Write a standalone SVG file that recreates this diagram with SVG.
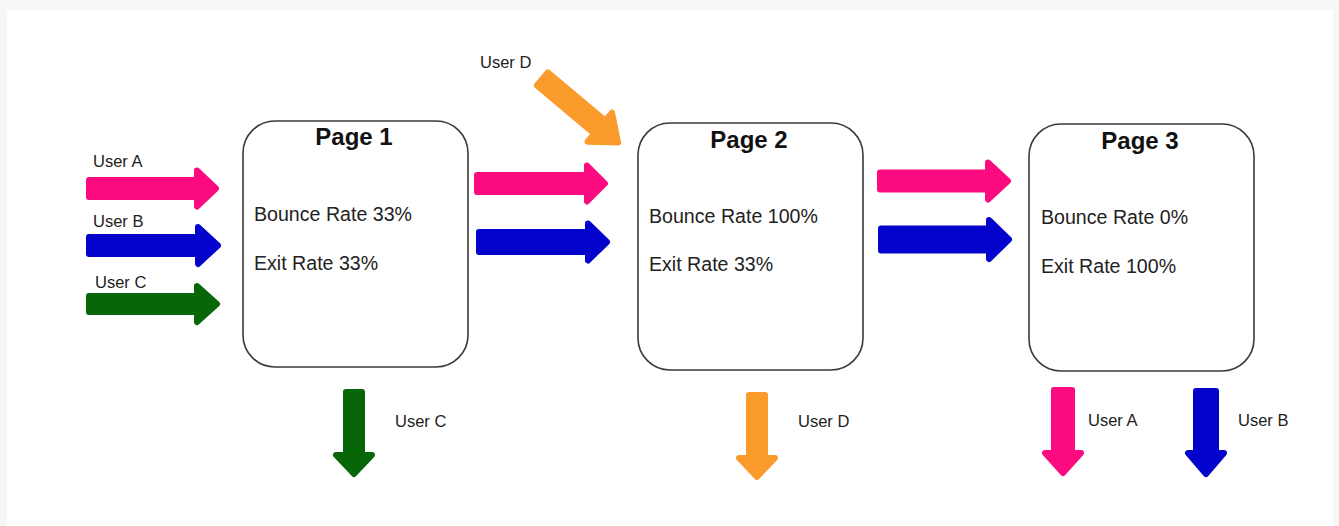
<svg xmlns="http://www.w3.org/2000/svg" width="1339" height="526" viewBox="0 0 1339 526">
<style>
.box{fill:#fff;stroke:#3a3a3a;stroke-width:1.6}
.title{font-family:"Liberation Sans",Arial,sans-serif;font-weight:bold;font-size:24px;fill:#111;text-anchor:middle}
.body{font-family:"Liberation Sans",Arial,sans-serif;font-size:19.6px;fill:#222}
.lbl{font-family:"Liberation Sans",Arial,sans-serif;font-size:16.5px;fill:#222}
.arr{stroke-width:6;stroke-linejoin:round}
.pink{fill:#fc0a80;stroke:#fc0a80}
.blue{fill:#0303cc;stroke:#0303cc}
.green{fill:#076607;stroke:#076607}
.orange{fill:#fb9b2c;stroke:#fb9b2c}
</style>
<rect x="0" y="0" width="1339" height="526" fill="#f7f7f7"/>
<rect x="7" y="10" width="1326" height="516" fill="#ffffff"/>

<g id="page1">
<rect class="box" x="243" y="121" width="225" height="246" rx="32"/>
<text class="title" x="354" y="145">Page 1</text>
<text class="body" x="254" y="221">Bounce Rate 33%</text>
<text class="body" x="254" y="270">Exit Rate 33%</text>
</g>
<g id="page2">
<rect class="box" x="638" y="123" width="225" height="247" rx="32"/>
<text class="title" x="749" y="148">Page 2</text>
<text class="body" x="649" y="223">Bounce Rate 100%</text>
<text class="body" x="649" y="271">Exit Rate 33%</text>
</g>
<g id="page3">
<rect class="box" x="1029" y="124" width="225" height="247" rx="32"/>
<text class="title" x="1140" y="149">Page 3</text>
<text class="body" x="1041" y="224">Bounce Rate 0%</text>
<text class="body" x="1041" y="273">Exit Rate 100%</text>
</g>

<g id="connectors">
<polygon class="arr pink" points="89,180 197,180 197,170.5 216,188.5 197,206.5 197,197 89,197"/>
<polygon class="arr blue" points="89,237 198,237 198,227 218,245.5 198,264 198,254 89,254"/>
<polygon class="arr green" points="89,296 197,296 197,286 217,304 197,322 197,312 89,312"/>
<polygon class="arr pink" points="477,175 587,175 587,165.5 605,183.5 587,201.5 587,192 477,192"/>
<polygon class="arr blue" points="479,232 588,232 588,223.5 607,242 588,260.5 588,252 479,252"/>
<polygon class="arr pink" points="880,172.5 988,172.5 988,162.5 1008,181 988,199.5 988,189.5 880,189.5"/>
<polygon class="arr blue" points="881,228.5 989,228.5 989,220 1009,239.5 989,259 989,250.5 881,250.5"/>
<polygon class="arr orange" transform="translate(540,77) rotate(40)" points="3,-8.5 78,-8.5 78,-19 102,0 78,19 78,8.5 3,8.5"/>
<polygon class="arr green" points="346,392 362,392 362,455 372,455 354,474 336,455 346,455"/>
<polygon class="arr orange" points="749,395 765,395 765,458 775,458 757,477 739,458 749,458"/>
<polygon class="arr pink" points="1054,390 1072,390 1072,453 1081,453 1063,473 1045,453 1054,453"/>
<polygon class="arr blue" points="1196,391 1216,391 1216,453 1224,453 1206,474 1188,453 1196,453"/>
</g>

<g id="labels">
<text class="lbl" x="93" y="167">User A</text>
<text class="lbl" x="93" y="227">User B</text>
<text class="lbl" x="95" y="288">User C</text>
<text class="lbl" x="480" y="68">User D</text>
<text class="lbl" x="395" y="427">User C</text>
<text class="lbl" x="798" y="427">User D</text>
<text class="lbl" x="1088" y="426">User A</text>
<text class="lbl" x="1238" y="426">User B</text>
</g>
</svg>
